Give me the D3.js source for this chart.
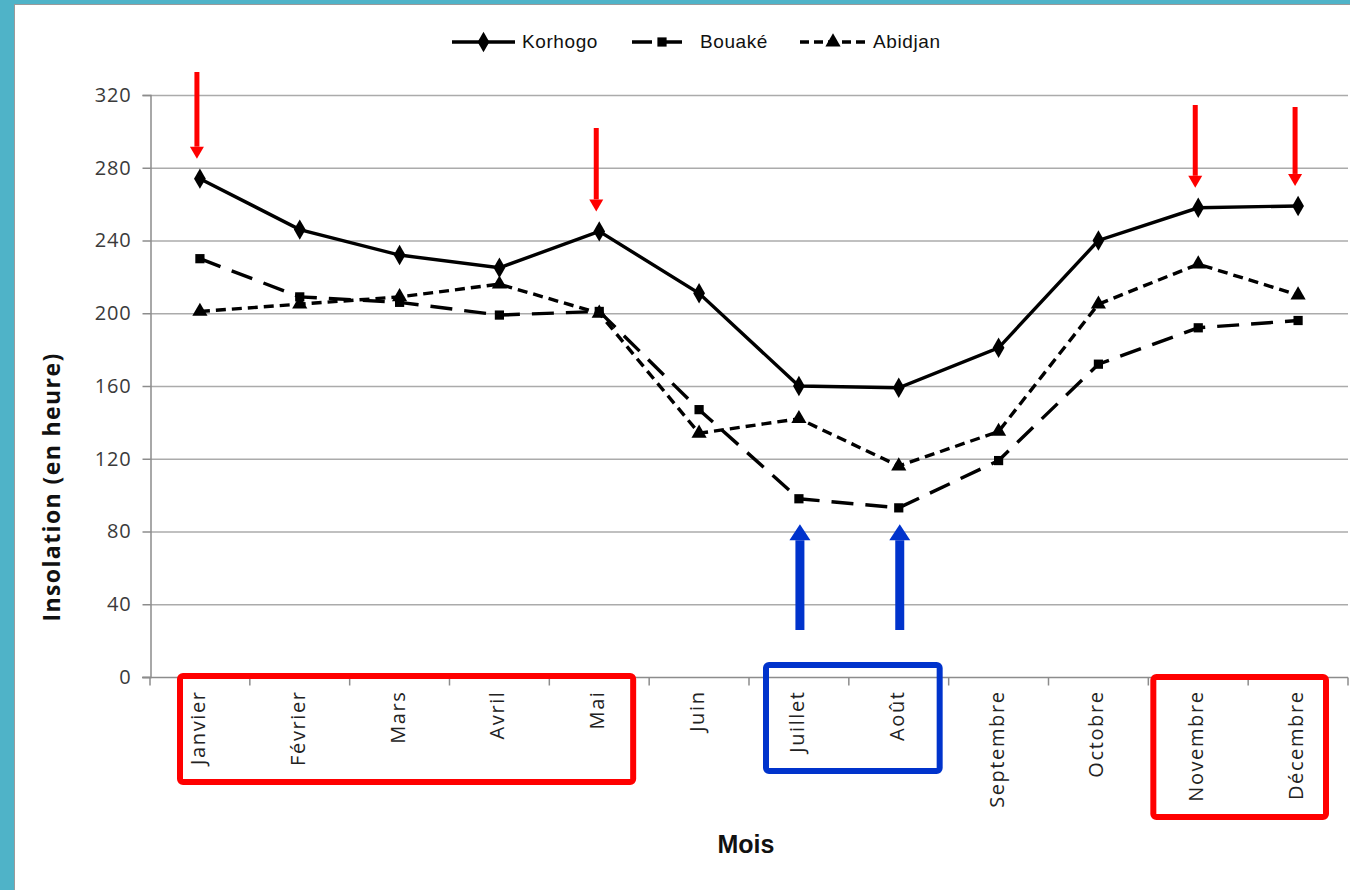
<!DOCTYPE html>
<html>
<head>
<meta charset="utf-8">
<script src="https://cdn.jsdelivr.net/npm/d3@7"></script>
<style>
  html, body { margin: 0; padding: 0; background: #fff; }
  svg { display: block; }
</style>
</head>
<body>
<svg id="chart" width="1350" height="890"></svg>
<script>
// Monthly sunshine duration (hours) for three Ivorian stations
const months = ["Janvier", "Février", "Mars", "Avril", "Mai", "Juin", "Juillet", "Août", "Septembre", "Octobre", "Novembre", "Décembre"];
const korhogo = [274, 246, 232, 225, 245, 211, 160, 159, 181, 240, 258, 259];
const bouake  = [230, 209, 206, 199, 201, 147, 98, 93, 119, 172, 192, 196];
const abidjan = [201, 205, 209, 216, 200, 134, 142, 116, 135, 205, 227, 210];
const yTicks = [0, 40, 80, 120, 160, 200, 240, 280, 320];

// Highlighted months: red = high sunshine, blue = low sunshine
const highMonths = ["Janvier", "Mai", "Novembre", "Décembre"];
const lowMonths = ["Juillet", "Août"];

const series = [
  { name: "Korhogo", values: korhogo, dash: null, legendDash: null, marker: d3.symbolDiamond, size: 120 },
  { name: "Bouaké", values: bouake, dash: "22,12", legendDash: "20,10", marker: d3.symbolSquare, size: 85 },
  { name: "Abidjan", values: abidjan, dash: "10,6", legendDash: "9,5", marker: d3.symbolTriangle, size: 100 }
];

const svg = d3.select("#chart");
const W = 1350, H = 890;
const labelFont = "'Open Sans', 'Noto Sans', sans-serif";

// Page frame
svg.append("rect").attr("x", 0).attr("y", 0).attr("width", W).attr("height", H).attr("fill", "#4fb3c8");
svg.append("rect").attr("x", 14).attr("y", 4).attr("width", W - 14).attr("height", H - 4).attr("fill", "#9a9a9a");
svg.append("rect").attr("x", 15).attr("y", 5).attr("width", W - 15).attr("height", H - 5).attr("fill", "#ffffff");

const x = d3.scaleBand().domain(months).range([150, 1348]);
const y = d3.scaleLinear().domain([0, 320]).range([677, 95]);
const cx = m => x(m) + x.bandwidth() / 2;

// Horizontal gridlines
svg.append("g").selectAll("line").data(yTicks.filter(t => t > 0)).join("line")
  .attr("x1", 150).attr("x2", 1348)
  .attr("y1", d => y(d) + 0.5).attr("y2", d => y(d) + 0.5)
  .attr("stroke", "#ababab").attr("stroke-width", 1.5);

// Y axis
const yAxis = svg.append("g").attr("transform", "translate(150.5,0)")
  .call(d3.axisLeft(y).tickValues(yTicks).tickSize(8).tickPadding(11));
yAxis.select(".domain").attr("stroke", "#8c8c8c").attr("stroke-width", 1.5);
yAxis.selectAll(".tick line").attr("stroke", "#8c8c8c").attr("stroke-width", 1.5);
yAxis.selectAll(".tick text")
  .attr("font-family", labelFont)
  .attr("font-size", 20).attr("letter-spacing", 0.8).attr("fill", "#3a3a3a");

// X axis with ticks on category boundaries
const xAxisG = svg.append("g").attr("transform", "translate(0,677.5)");
xAxisG.append("line").attr("x1", 142).attr("x2", 1348).attr("y1", 0).attr("y2", 0)
  .attr("stroke", "#8c8c8c").attr("stroke-width", 1.5);
const boundaries = [x(months[0])].concat(months.map(m => x(m) + x.bandwidth()));
xAxisG.selectAll("line.tk").data(boundaries).join("line")
  .attr("class", "tk")
  .attr("x1", d => d).attr("x2", d => d)
  .attr("y1", 0).attr("y2", 8)
  .attr("stroke", "#8c8c8c").attr("stroke-width", 1.5);
xAxisG.selectAll("text").data(months).join("text")
  .attr("transform", d => `translate(${cx(d) + 5},13) rotate(-90)`)
  .attr("text-anchor", "end")
  .attr("font-family", labelFont)
  .attr("font-size", 20).attr("letter-spacing", 1.6).attr("fill", "#222")
  .text(d => d);

// Axis titles
svg.append("text")
  .attr("transform", `translate(60,${(y(0) + y(320)) / 2 + 101}) rotate(-90)`)
  .attr("text-anchor", "middle")
  .attr("font-family", labelFont)
  .attr("font-weight", "bold").attr("font-size", 23).attr("letter-spacing", 1.4).attr("fill", "#111")
  .text("Insolation (en heure)");
svg.append("text")
  .attr("x", 746).attr("y", 853)
  .attr("text-anchor", "middle")
  .attr("font-family", "'Liberation Sans Narrow', 'Liberation Sans', sans-serif")
  .attr("font-weight", "bold").attr("font-size", 25).attr("fill", "#111")
  .text("Mois");

// Series lines and markers
const line = d3.line().x((d, i) => cx(months[i])).y(d => y(d));
series.forEach(s => {
  svg.append("path").datum(s.values)
    .attr("d", line)
    .attr("fill", "none").attr("stroke", "#000").attr("stroke-width", 3.4)
    .attr("stroke-dasharray", s.dash);
  svg.append("g").selectAll("path").data(s.values).join("path")
    .attr("transform", (d, i) => `translate(${cx(months[i])},${y(d)})`)
    .attr("d", d3.symbol().type(s.marker).size(s.size))
    .attr("fill", "#000");
});

// Legend
const legend = svg.append("g").attr("transform", "translate(0,42)");
const legendItems = [
  { s: series[0], x0: 452, x1: 515, tx: 522 },
  { s: series[1], x0: 632, x1: 692, tx: 700 },
  { s: series[2], x0: 800, x1: 866, tx: 873 }
];
legendItems.forEach(it => {
  legend.append("line").attr("x1", it.x0).attr("x2", it.x1).attr("y1", 0).attr("y2", 0)
    .attr("stroke", "#000").attr("stroke-width", 3.5)
    .attr("stroke-dasharray", it.s.legendDash);
  legend.append("path")
    .attr("transform", `translate(${(it.x0 + it.x1) / 2},0)`)
    .attr("d", d3.symbol().type(it.s.marker).size(it.s.size))
    .attr("fill", "#000");
  legend.append("text").attr("x", it.tx).attr("y", 6)
    .attr("font-family", "'Liberation Sans', sans-serif")
    .attr("font-size", 19).attr("letter-spacing", 0.6).attr("fill", "#111")
    .text(it.s.name);
});

// Arrows: red pointing down to the high Korhogo values, blue pointing up to the Bouaké lows
function arrow(xc, yTail, yTip, color, w, headW, headH) {
  const dir = yTip > yTail ? 1 : -1;
  const yBase = yTip - dir * headH;
  svg.append("line").attr("x1", xc).attr("x2", xc).attr("y1", yTail).attr("y2", yBase)
    .attr("stroke", color).attr("stroke-width", w);
  svg.append("path")
    .attr("d", `M${xc - headW / 2},${yBase} L${xc + headW / 2},${yBase} L${xc},${yTip} Z`)
    .attr("fill", color);
}
const redTops = { "Janvier": 72, "Mai": 128, "Novembre": 105, "Décembre": 107 };
highMonths.forEach(m => {
  const i = months.indexOf(m);
  arrow(cx(m) - 3, redTops[m], y(korhogo[i]) - 20, "#ff0000", 5, 14, 12);
});
lowMonths.forEach(m => {
  arrow(cx(m) + 1, 630, y(84), "#0033cc", 9, 21, 16);
});

// Boxes around the highlighted month labels
function box(m0, m1, y0, y1, color, padL, padR) {
  const left = x(m0) + padL;
  const right = x(m1) + x.bandwidth() - padR;
  svg.append("rect")
    .attr("x", left).attr("y", y0)
    .attr("width", right - left).attr("height", y1 - y0)
    .attr("rx", 3)
    .attr("fill", "none").attr("stroke", color).attr("stroke-width", 6);
}
box("Janvier", "Mai", 676, 782, "#ff0000", 30, 16);
box("Juillet", "Août", 665, 771, "#0033cc", 17, 9);
box("Novembre", "Décembre", 677, 817, "#ff0000", 5, 22);
</script>
</body>
</html>
